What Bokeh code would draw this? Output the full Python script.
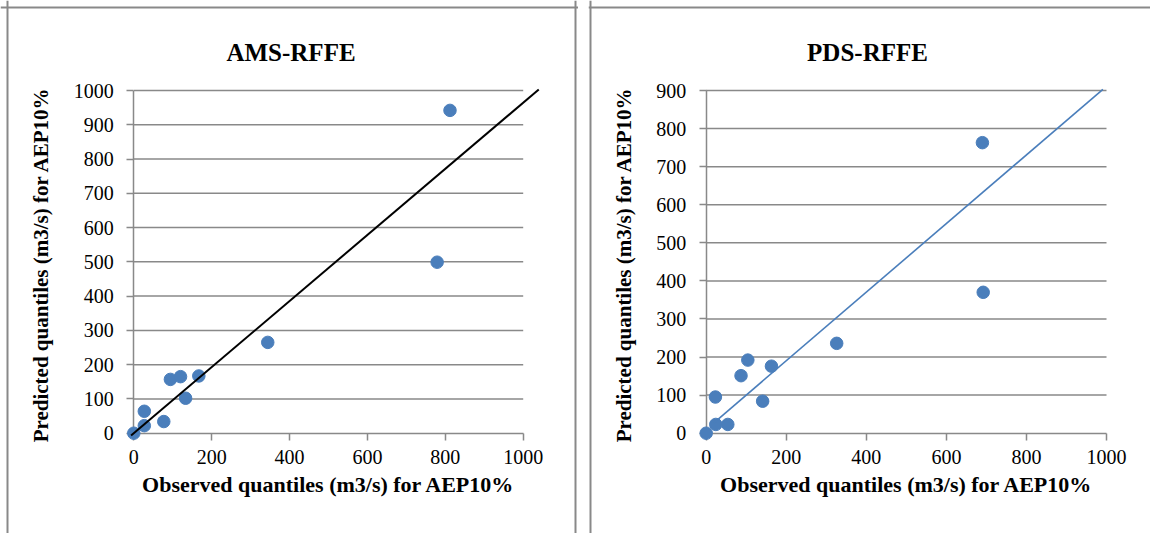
from bokeh.plotting import figure
from bokeh.models import Range1d, LinearAxis, FixedTicker, Span, Label
from bokeh.layouts import row
from bokeh.embed import file_html
from bokeh.resources import INLINE

# ---------------- data ----------------
x_ticks = [0, 200, 400, 600, 800, 1000]

ams_title = "AMS-RFFE"
ams_observed = [0, 27, 27, 77, 94, 120, 133, 167, 344, 779, 812]
ams_predicted = [0, 22, 64, 34, 157, 165, 102, 167, 265, 499, 942]
ams_line_x = [-7, 1040]
ams_line_y = [-7, 1003]
ams_y_ticks = [0, 100, 200, 300, 400, 500, 600, 700, 800, 900, 1000]

pds_title = "PDS-RFFE"
pds_observed = [0, 24, 54, 23, 87, 104, 141, 163, 326, 690, 692]
pds_predicted = [0, 23, 23, 95, 151, 192, 84, 176, 236, 763, 370]
pds_line_x = [20, 991]
pds_line_y = [28, 903]
pds_y_ticks = [0, 100, 200, 300, 400, 500, 600, 700, 800, 900]

x_label = "Observed quantiles (m3/s) for AEP10%"
y_label = "Predicted quantiles (m3/s)  for AEP10%"

# ---------------- styles / layout ----------------
GRAY = "#898989"
BLUE = "#4A7EBB"
FONT = "Liberation Serif"
H = 533
PAGE_TOP = 0


def make_panel(title, xs, ys, lx, ly, line_color, line_width, yticks,
               fig_left, width, x0_px, x1_px, y0_px, ytop_px,
               title_cx, title_base, border_left_px, border_right_px, border_top_px):
    sx = (x1_px - x0_px) / (x_ticks[-1] - x_ticks[0])
    sy = (y0_px - ytop_px) / (yticks[-1] - yticks[0])

    def to_x(px):
        return x_ticks[0] + (px - x0_px) / sx

    def to_y(py):
        return yticks[0] + (y0_px - py) / sy

    p = figure(width=width, height=H, output_backend="svg", toolbar_location=None,
               x_range=Range1d(to_x(fig_left), to_x(fig_left + width)),
               y_range=Range1d(to_y(PAGE_TOP + H), to_y(PAGE_TOP)),
               x_axis_location=None, y_axis_location=None, min_border=0)
    p.min_border_left = p.min_border_right = p.min_border_top = p.min_border_bottom = 0
    p.outline_line_color = None
    p.background_fill_color = "white"
    p.border_fill_color = "white"
    p.xgrid.grid_line_color = None
    p.ygrid.grid_line_color = None

    # horizontal gridlines from tick values
    gy = yticks[1:]
    p.segment(x0=[x_ticks[0]] * len(gy), x1=[x_ticks[-1]] * len(gy), y0=gy, y1=gy,
              line_color=GRAY, line_width=1.5, level="underlay")

    common = dict(
        axis_label_text_font=FONT, axis_label_text_font_style="bold",
        axis_label_text_color="black",
        major_label_text_font=FONT, major_label_text_font_size="20px",
        major_label_text_color="black",
        major_tick_in=0, major_tick_out=7, minor_tick_in=0, minor_tick_out=0,
        axis_line_color=GRAY, axis_line_width=1.5,
        major_tick_line_color=GRAY, major_tick_line_width=1.5,
    )
    xaxis = LinearAxis(fixed_location=yticks[0], ticker=FixedTicker(ticks=x_ticks),
                       bounds=(x_ticks[0], x_ticks[-1]), axis_label=x_label,
                       axis_label_text_font_size="22px", axis_label_standoff=4,
                       major_label_standoff=10, **common)
    yaxis = LinearAxis(fixed_location=x_ticks[0], ticker=FixedTicker(ticks=yticks),
                       bounds=(yticks[0], yticks[-1]), axis_label=y_label,
                       axis_label_text_font_size="21px", axis_label_standoff=18,
                       major_label_standoff=13, **common)
    p.add_layout(xaxis, "below")
    p.add_layout(yaxis, "left")

    p.scatter(xs, ys, size=12.5, color=BLUE, level="annotation")
    p.line(lx, ly, line_color=line_color, line_width=line_width, level="annotation")

    # chart-area frame
    p.add_layout(Span(location=to_x(border_left_px), dimension="height",
                      line_color=GRAY, line_width=2))
    p.add_layout(Span(location=to_y(border_top_px), dimension="width",
                      line_color=GRAY, line_width=2))
    if border_right_px is not None:
        p.add_layout(Span(location=to_x(border_right_px), dimension="height",
                          line_color=GRAY, line_width=2))

    p.add_layout(Label(x=to_x(title_cx), y=to_y(title_base), text=title,
                       text_align="center", text_baseline="alphabetic",
                       text_font=FONT, text_font_style="bold", text_font_size="25px",
                       text_color="black"))
    return p


p1 = make_panel(ams_title, ams_observed, ams_predicted, ams_line_x, ams_line_y,
                "black", 2, ams_y_ticks,
                fig_left=0, width=578, x0_px=133.3, x1_px=522.7, y0_px=432.7, ytop_px=90,
                title_cx=290.5, title_base=52,
                border_left_px=7, border_right_px=575, border_top_px=7)
p2 = make_panel(pds_title, pds_observed, pds_predicted, pds_line_x, pds_line_y,
                BLUE, 1.6, pds_y_ticks,
                fig_left=588, width=562, x0_px=705.7, x1_px=1106, y0_px=432.7, ytop_px=90,
                title_cx=867, title_base=52,
                border_left_px=590, border_right_px=None, border_top_px=7)

layout = row(p1, p2, spacing=10)
open("out.html", "w").write(file_html(layout, INLINE))
